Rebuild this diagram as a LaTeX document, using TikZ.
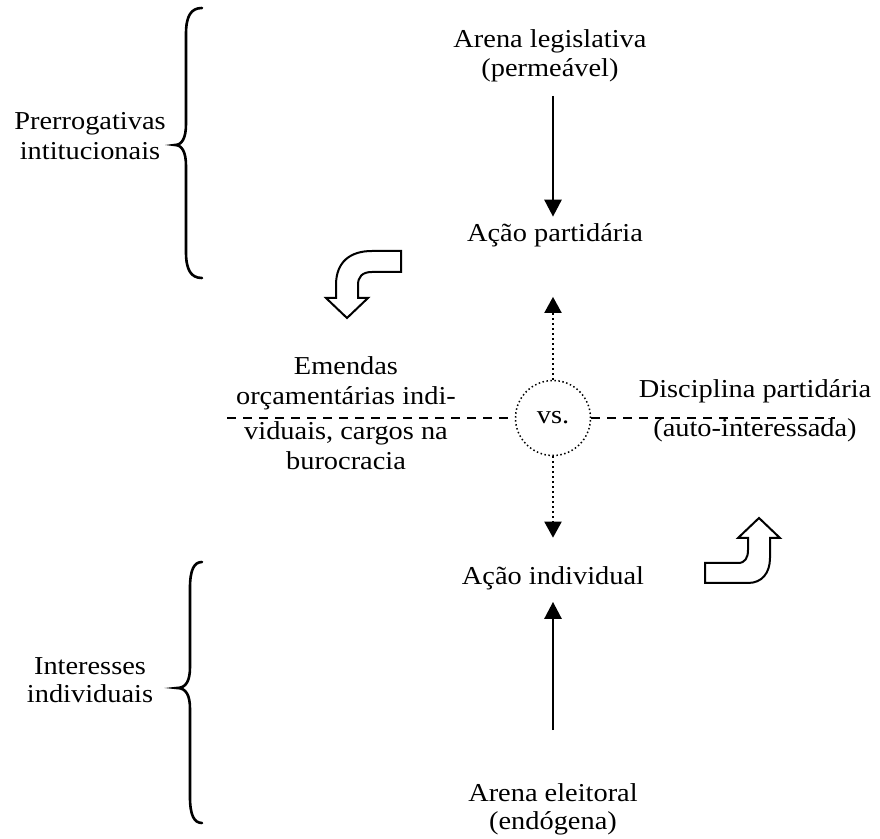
\documentclass[tikz,border=0pt]{standalone}
\usepackage{fontspec}
\setmainfont{Liberation Serif}[FakeStretch=1.1]
\usetikzlibrary{arrows.meta}
\begin{document}
\begin{tikzpicture}[x=0.5pt,y=-0.5pt,
  txt/.style={inner sep=0pt, outer sep=0pt, align=center, anchor=base,
    font=\fontsize{12.9}{14.5}\selectfont},
  sarrow/.style={line width=1.35pt, -{Triangle[width=8.5pt,length=8.5pt]}},
  darrow/.style={line width=1pt, dash pattern=on 1pt off 1.5pt,
    -{Triangle[width=8.5pt,length=8pt]}},
  dline/.style={line width=1pt, dash pattern=on 4.5pt off 3.5pt},
  bracepath/.style={line width=1.3pt, line cap=round},
  blockarrow/.style={line width=1pt, line join=miter, fill=white}]
\useasboundingbox (0,0) rectangle (880,839);

% central column (base anchor = baseline of the last line)
\node[txt] (arenaLeg) at (550,77) {Arena legislativa\\(permeável)};
\node[txt] (acaoPart) at (555,242) {Ação partidária};
\node[circle, draw, line width=0.75pt, dash pattern=on 0.75pt off 1.25pt,
  minimum size=37.5pt, inner sep=0pt,
  font=\fontsize{12.9}{14.5}\selectfont] (vs) at (553,418) {vs.};
\node[txt] (acaoInd) at (553,585) {Ação individual};
\node[txt, font=\fontsize{12.9}{14}\selectfont] (arenaElei) at (553,830)
  {Arena eleitoral\\(endógena)};

% side texts
\node[txt, font=\fontsize{12.9}{15}\selectfont] (emendas) at (346,470)
  {Emendas\\orçamentárias indi-\\[2.5pt]viduais, cargos na\\burocracia};
\node[txt] (disc) at (755,437) {Disciplina partidária\\[5pt](auto-interessada)};
\node[txt, font=\fontsize{12.9}{15}\selectfont] (prerrog) at (90,160)
  {Prerrogativas\\intitucionais};
\node[txt, font=\fontsize{12.9}{14}\selectfont] (interesses) at (90,703)
  {Interesses\\individuais};

% ends of the dashed axis
\coordinate (dashL) at (227,418);
\coordinate (dashR) at (835,418);

% solid arrows
\draw[sarrow, shorten <=6.7pt, shorten >=3.7pt]
  (arenaLeg.south -| vs.center) -- (acaoPart.north -| vs.center);
\draw[sarrow, shorten <=27pt, shorten >=5.7pt]
  (arenaElei.north -| vs.center) -- (acaoInd.south -| vs.center);

% dotted arrows
\draw[darrow, shorten >=24.7pt] (vs.north) -- (acaoPart.south -| vs.center);
\draw[darrow, shorten >=14.7pt] (vs.south) -- (acaoInd.north -| vs.center);

% dashed axis
\draw[dline] (dashL) -- (vs.west);
\draw[dline] (vs.east) -- (dashR);

% braces
\draw[bracepath] (202,8) .. controls (191,8) and (186,16) .. (186,34)
  -- (186,124) .. controls (186,138) and (182,145) .. (175,145)
  .. controls (182,145) and (186,152) .. (186,166)
  -- (186,252) .. controls (186,270) and (191,278) .. (202,278);
\draw[bracepath] (202,562) .. controls (194,562) and (190,570) .. (190,588)
  -- (190,667) .. controls (190,681) and (186,688) .. (177,688)
  .. controls (186,688) and (190,695) .. (190,709)
  -- (190,797) .. controls (190,815) and (194,823) .. (202,823);

% bent block arrows
\draw[blockarrow] (401,251) -- (372,251)
  .. controls (350,251) and (336,262) .. (336,285)
  -- (336,298) -- (326,298) -- (347,318) -- (368,298) -- (358,298)
  -- (358,285) .. controls (358,277) and (362,272) .. (372,272)
  -- (401,272) -- cycle;
\draw[blockarrow] (705,563) -- (738,563)
  .. controls (745,563) and (748,558) .. (748,550)
  -- (748,538) -- (738,538) -- (759,518) -- (780,538) -- (770,538)
  -- (770,558) .. controls (770,573) and (762,583) .. (748,583)
  -- (705,583) -- cycle;
\end{tikzpicture}
\end{document}
